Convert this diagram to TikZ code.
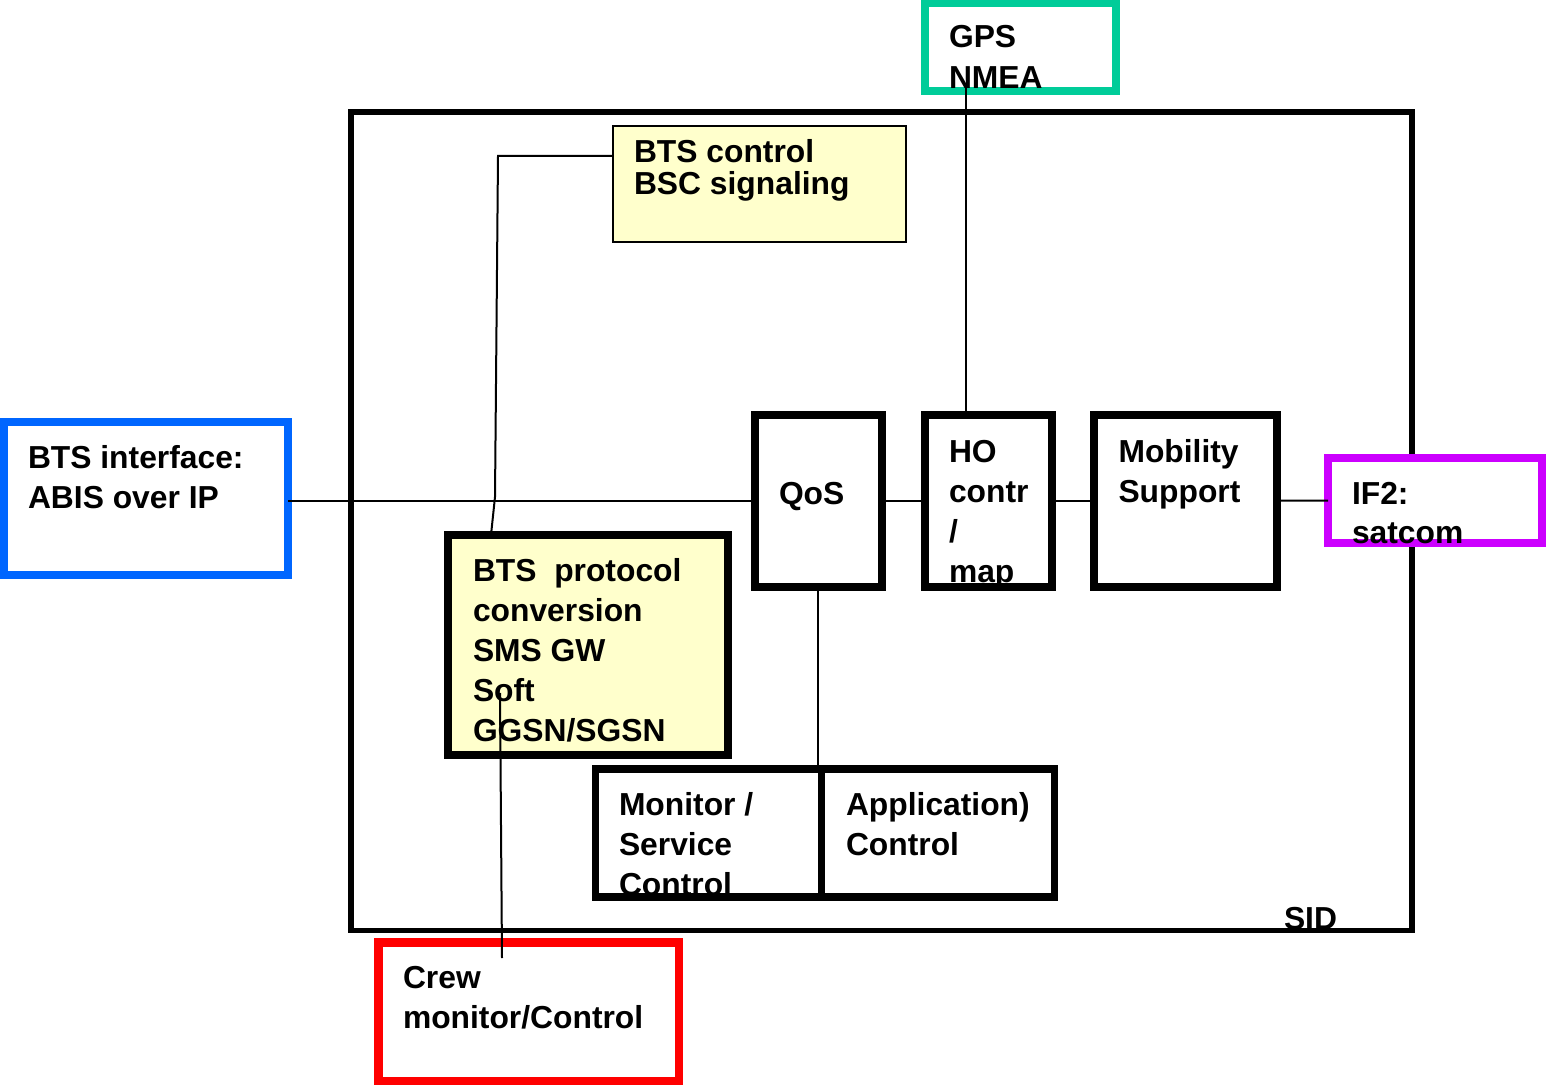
\documentclass[tikz,border=0pt]{standalone}
\usepackage{fontspec}
\setmainfont{Liberation Sans}
\definecolor{boxyellow}{HTML}{FFFFCC}
\definecolor{gpsgreen}{HTML}{00CC99}
\definecolor{btsblue}{HTML}{0066FF}
\definecolor{ifmagenta}{HTML}{CC00FF}
\definecolor{crewred}{HTML}{FF0000}
\begin{document}
\begin{tikzpicture}[x=1pt,y=-1pt,
  box/.style={draw, rectangle, inner sep=0pt, outer sep=0pt, line width=8pt},
  thinbox/.style={draw, rectangle, inner sep=0pt, outer sep=0pt, line width=2pt},
  conn/.style={draw, line width=2pt},
  txt/.style={anchor=base west, inner sep=0pt, outer sep=0pt, align=left,
    font=\bfseries\fontsize{31.8}{40}\selectfont},
  tighttxt/.style={txt, font=\bfseries\fontsize{31.8}{32}\selectfont}]
\useasboundingbox (0,0) rectangle (1551,1091);
% boxes
\node[box, line width=5.5pt, minimum width=1061pt, minimum height=818.5pt] (sid) at (881.5,521.25) {};
\node[thinbox, fill=boxyellow, minimum width=293.5pt, minimum height=115.5pt] (btsctl) at (759.25,184.25) {};
\node[box, draw=gpsgreen, minimum width=191pt, minimum height=87.5pt] (gps) at (1020.5,47.25) {};
\node[box, draw=btsblue, minimum width=284pt, minimum height=153.5pt] (bti) at (146,498.25) {};
\node[box, minimum width=127.4pt, minimum height=172.5pt] (qos) at (818.3,500.75) {};
\node[box, minimum width=127pt, minimum height=172.5pt] (ho) at (988.5,500.75) {};
\node[box, minimum width=183pt, minimum height=172.5pt] (mob) at (1185.5,500.75) {};
\node[box, draw=ifmagenta, fill=white, minimum width=214pt, minimum height=85pt] (if2) at (1435,500.5) {};
\node[box, fill=boxyellow, minimum width=280pt, minimum height=220pt] (btp) at (588,645) {};
\node[box, line width=7.5pt, minimum width=226pt, minimum height=128pt] (mon) at (708.5,833) {};
\node[box, line width=7.5pt, minimum width=233pt, minimum height=128pt] (app) at (938,833) {};
\node[box, draw=crewred, line width=8.5pt, minimum width=300.5pt, minimum height=138.5pt] (crew) at (528.75,1011.75) {};
% connectors
\coordinate (gpsend) at (966,88);
\coordinate (ctlbend) at (498,156);
\coordinate (ctlknee) at (495,497);
\coordinate (crewtop) at (500,693);
\coordinate (crewend) at (502,958);
\draw[conn] (bti.east |- qos.west) -- (qos.west);
\draw[conn] (qos.east) -- (ho.west);
\draw[conn] (ho.east) -- (mob.west);
\draw[conn] (mob.east) -- (if2.west);
\draw[conn] (gpsend) -- (gpsend |- ho.north);
\draw[conn] (qos.south) -- (qos.south |- mon.north);
\draw[conn] ([yshift=28.25pt]btsctl.west) -- (ctlbend) -- (ctlknee) -- ([xshift=-97pt]btp.north);
\draw[conn] (crewtop) -- (crewend);
% texts (anchored at the baseline of the last line)
\node[txt] (tgps) at (949,89) {GPS\\[1pt]NMEA};
\node[tighttxt] (tctl) at (634,195) {BTS control\\BSC signaling};
\node[txt] (tbti) at (28,508) {BTS interface:\\ABIS over IP};
\node[txt] (tqos) at (779,504) {QoS};
\node[txt] (tho) at (949,582) {HO\\contr\\/\\map};
\node[txt] (tmob) at (1118.5,502) {Mobility\\Support};
\node[txt] (tif2) at (1352,543) {IF2:\\[-1pt]satcom};
\node[txt] (tbtp) at (473,741) {BTS\ \ protocol\\conversion\\SMS GW\\Soft\\GGSN/SGSN};
\node[txt] (tmon) at (619,895) {Monitor /\\Service\\Control};
\node[txt] (tapp) at (846,855) {Application)\\Control};
\node[txt] (tsid) at (1284,929) {SID};
\node[txt] (tcrew) at (403,1028) {Crew\\monitor/Control};
\end{tikzpicture}
\end{document}
